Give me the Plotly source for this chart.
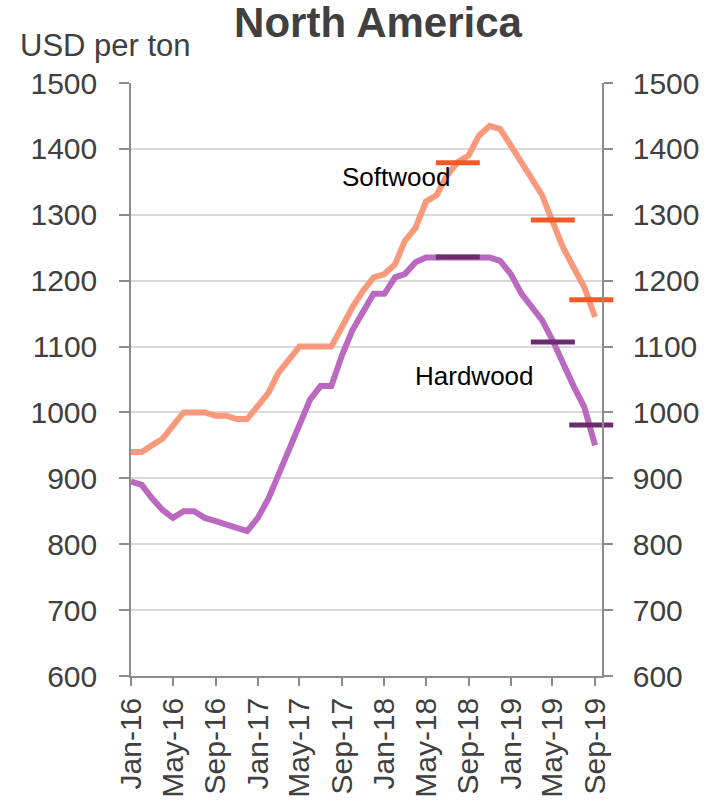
import plotly.graph_objects as go

# Monthly observations Jan-2016 .. Sep-2019
months = [f"{y}-{m:02d}-01" for y in range(2016, 2020) for m in range(1, 13)][:45]

softwood = [940, 940, 950, 960, 980, 1000, 1000, 1000, 995, 995, 990, 990,
            1010, 1030, 1060, 1080, 1100, 1100, 1100, 1100, 1130, 1160, 1185, 1205,
            1210, 1225, 1260, 1280, 1320, 1330, 1360, 1380, 1390, 1420, 1435, 1430,
            1405, 1380, 1355, 1330, 1290, 1250, 1220, 1190, 1145]

hardwood = [895, 890, 870, 852, 840, 850, 850, 840, 835, 830, 825, 820,
            840, 870, 905, 945, 985, 1020, 1040, 1040, 1087, 1125, 1153, 1180,
            1180, 1205, 1210, 1228, 1235, 1235, 1235, 1235, 1235, 1235, 1235, 1230,
            1210, 1180, 1160, 1140, 1110, 1072, 1040, 1008, 950]

# Quarterly averages (short horizontal markers)
quarter_dates = ["2018-08-01", "2019-05-02", "2019-08-21"]
softwood_q = [1379, 1292, 1171]
hardwood_q = [1236, 1107, 981]

tick_vals = ["2016-01-01", "2016-05-01", "2016-09-01", "2017-01-01", "2017-05-01", "2017-09-01",
             "2018-01-01", "2018-05-01", "2018-09-01", "2019-01-01", "2019-05-01", "2019-09-01"]
tick_text = ["Jan-16", "May-16", "Sep-16", "Jan-17", "May-17", "Sep-17",
             "Jan-18", "May-18", "Sep-18", "Jan-19", "May-19", "Sep-19"]
y_ticks = [600, 700, 800, 900, 1000, 1100, 1200, 1300, 1400, 1500]

FONT = "Liberation Sans, Arial, sans-serif"
TXT = "#404040"
AX = "#8c8c8c"

fig = go.Figure()
fig.add_trace(go.Scatter(x=months, y=softwood, mode="lines", name="Softwood",
                         line=dict(color="#F7997A", width=6), hoverinfo="skip"))
fig.add_trace(go.Scatter(x=months, y=hardwood, mode="lines", name="Hardwood",
                         line=dict(color="#BA68C0", width=6), hoverinfo="skip"))
fig.add_trace(go.Scatter(x=quarter_dates, y=softwood_q, mode="markers", cliponaxis=False,
                         marker=dict(symbol="line-ew", size=31.4,
                                     line=dict(color="#F05A28", width=5)),
                         hoverinfo="skip"))
fig.add_trace(go.Scatter(x=quarter_dates, y=hardwood_q, mode="markers", cliponaxis=False,
                         marker=dict(symbol="line-ew", size=31.4,
                                     line=dict(color="#6A2C6E", width=5)),
                         hoverinfo="skip"))
# invisible trace to activate the right-hand axis
fig.add_trace(go.Scatter(x=[months[0]], y=[softwood[0]], yaxis="y2", mode="markers",
                         marker=dict(opacity=0), hoverinfo="skip"))

fig.update_layout(
    width=712, height=808,
    margin=dict(l=131, r=110, t=83, b=132, autoexpand=False),
    paper_bgcolor="white", plot_bgcolor="white",
    showlegend=False,
    font=dict(family=FONT, color=TXT),
    title=dict(text="<b>North America</b>", x=378 / 712, xanchor="center",
               y=1 - 22 / 808, yanchor="middle", automargin=False,
               font=dict(size=42, color=TXT, family=FONT)),
    xaxis=dict(type="date", range=["2016-01-01", "2019-09-21"], automargin=False,
               tickvals=tick_vals, ticktext=tick_text, tickangle=-90,
               tickfont=dict(size=30, color=TXT),
               ticks="outside", ticklen=8, tickcolor=AX, tickwidth=1.5,
               showline=True, linecolor=AX, linewidth=1.5,
               showgrid=False, zeroline=False),
    yaxis=dict(range=[600, 1500], tickvals=y_ticks, automargin=False,
               tickfont=dict(size=30, color=TXT),
               ticks="outside", ticklen=10, tickcolor=AX, tickwidth=1.5,
               ticklabelstandoff=16,
               showline=True, linecolor=AX, linewidth=1.5,
               showgrid=True, gridcolor="#d9d9d9", gridwidth=1.5, zeroline=False),
    yaxis2=dict(range=[600, 1500], tickvals=y_ticks, overlaying="y", side="right",
                automargin=False,
                tickfont=dict(size=30, color=TXT),
                ticks="outside", ticklen=9, tickcolor=AX, tickwidth=1.5,
                ticklabelstandoff=14,
                showline=True, linecolor=AX, linewidth=1.5,
                showgrid=False, zeroline=False),
    annotations=[
        dict(text="USD per ton", xref="paper", yref="paper",
             x=(18 - 131) / 471, y=1 + 38 / 593, xanchor="left", yanchor="middle",
             showarrow=False, font=dict(size=31, color=TXT)),
        dict(text="Softwood", xref="x", yref="y", x="2018-02-04", y=1357,
             showarrow=False, font=dict(size=26, color="#000000")),
        dict(text="Hardwood", xref="x", yref="y", x="2018-09-17", y=1055,
             showarrow=False, font=dict(size=26, color="#000000")),
    ],
)

fig.write_html("out.html",
               config={"displayModeBar": False},
               post_script="document.body.style.margin='0';document.body.style.overflow='hidden';")
